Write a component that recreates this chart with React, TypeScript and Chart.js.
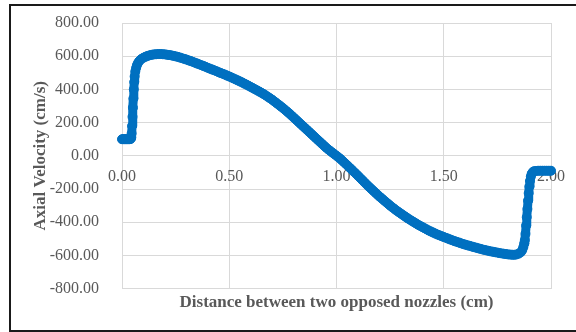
import React, { useEffect, useRef } from "react";
import { Chart, registerables } from "chart.js";

Chart.register(...registerables);

// Distance between nozzles (cm)
const distance: number[] = [
  0.000, 0.005, 0.010, 0.015, 0.020, 0.025, 0.030, 0.035, 0.040, 0.043,
  0.045, 0.047, 0.049, 0.051, 0.053, 0.055, 0.057, 0.059, 0.062, 0.066,
  0.070, 0.075, 0.080, 0.090, 0.100, 0.110, 0.120, 0.130, 0.140, 0.150,
  0.160, 0.170, 0.180, 0.190, 0.200, 0.210, 0.220, 0.230, 0.240, 0.250,
  0.260, 0.270, 0.280, 0.290, 0.300, 0.310, 0.320, 0.330, 0.340, 0.350,
  0.360, 0.370, 0.380, 0.390, 0.400, 0.410, 0.420, 0.430, 0.440, 0.450,
  0.460, 0.470, 0.480, 0.490, 0.500, 0.510, 0.520, 0.530, 0.540, 0.550,
  0.560, 0.570, 0.580, 0.590, 0.600, 0.610, 0.620, 0.630, 0.640, 0.650,
  0.660, 0.670, 0.680, 0.690, 0.700, 0.710, 0.720, 0.730, 0.740, 0.750,
  0.760, 0.770, 0.780, 0.790, 0.800, 0.810, 0.820, 0.830, 0.840, 0.850,
  0.860, 0.870, 0.880, 0.890, 0.900, 0.910, 0.920, 0.930, 0.940, 0.950,
  0.960, 0.970, 0.980, 0.990, 1.000,
  1.010, 1.020, 1.030, 1.040, 1.050, 1.060, 1.070, 1.080, 1.090, 1.100,
  1.110, 1.120, 1.130, 1.140, 1.150, 1.160, 1.170, 1.180, 1.190, 1.200,
  1.210, 1.220, 1.230, 1.240, 1.250, 1.260, 1.270, 1.280, 1.290, 1.300,
  1.310, 1.320, 1.330, 1.340, 1.350, 1.360, 1.370, 1.380, 1.390, 1.400,
  1.410, 1.420, 1.430, 1.440, 1.450, 1.460, 1.470, 1.480, 1.490, 1.500,
  1.510, 1.520, 1.530, 1.540, 1.550, 1.560, 1.570, 1.580, 1.590, 1.600,
  1.610, 1.620, 1.630, 1.640, 1.650, 1.660, 1.670, 1.680, 1.690, 1.700,
  1.710, 1.720, 1.730, 1.740, 1.750, 1.760, 1.770, 1.780, 1.790, 1.800,
  1.810, 1.820, 1.830, 1.840, 1.850, 1.860, 1.866, 1.871, 1.875, 1.878,
  1.881, 1.884, 1.887, 1.890, 1.893, 1.896, 1.899, 1.902, 1.906, 1.910,
  1.915, 1.920, 1.930, 1.940, 1.950, 1.960, 1.970, 1.980, 1.990, 2.000,
];

// Axial velocity (cm/s)
const velocity: number[] = [
  100, 100, 100, 100, 100, 100, 100, 100, 101, 108,
  135, 180, 235, 290, 345, 400, 445, 478, 508, 530,
  547, 560, 570, 583, 591, 597, 602, 606, 609, 611,
  612, 613, 613, 612, 611, 609, 607, 605, 602, 599,
  596, 592, 588, 584, 580, 575, 571, 566, 561, 556,
  551, 546, 541, 536, 530, 525, 520, 515, 510, 504,
  499, 494, 489, 483, 478, 472, 466, 460, 454, 448,
  442, 435, 429, 422, 415, 408, 401, 394, 387, 380,
  372, 364, 355, 347, 338, 328, 318, 308, 298, 288,
  277, 266, 255, 243, 231, 219, 207, 195, 183, 171,
  159, 147, 135, 123, 111, 99, 87, 75, 63, 51,
  40, 30, 20, 10, 0,
  -10, -21, -33, -45, -57, -70, -82, -95, -107, -120,
  -133, -146, -159, -172, -185, -197, -209, -221, -233, -245,
  -256, -267, -278, -289, -300, -310, -320, -330, -339, -348,
  -357, -366, -375, -383, -391, -399, -407, -415, -422, -429,
  -436, -443, -450, -456, -462, -468, -474, -479, -484, -489,
  -494, -499, -504, -509, -514, -518, -522, -527, -531, -535,
  -539, -542, -546, -550, -553, -557, -560, -564, -567, -570,
  -573, -576, -578, -581, -583, -586, -588, -590, -592, -594,
  -595, -596, -596, -594, -589, -580, -568, -550, -528, -508,
  -470, -420, -370, -320, -270, -225, -185, -152, -125, -108,
  -98, -93, -91, -90, -90, -90, -90, -90, -90, -90,
];

const xTickValues: number[] = [0, 0.5, 1.0, 1.5, 2.0];
const yTickValues: number[] = [-800, -600, -400, -200, 0, 200, 400, 600, 800];

const xTitle = "Distance between two opposed nozzles (cm)";
const yTitle = "Axial Velocity (cm/s)";

const FONT = '"Liberation Serif", "Times New Roman", serif';
const TEXT = "#595959";
const GRID = "#D9D9D9";
const BLUE = "#0070C0";

export default function App() {
  const ref = useRef<HTMLCanvasElement | null>(null);

  useEffect(() => {
    document.body.style.overflow = "hidden";
    const canvas = ref.current;
    if (!canvas) return;
    const points = distance.map((x, i) => ({ x, y: velocity[i] }));
    const chart = new Chart(canvas, {
      type: "scatter",
      data: {
        datasets: [
          {
            data: points,
            showLine: true,
            borderColor: BLUE,
            borderWidth: 9,
            borderJoinStyle: "round",
            borderCapStyle: "round",
            backgroundColor: BLUE,
            pointRadius: 4.5,
            pointBorderWidth: 1,
            pointBorderColor: BLUE,
            pointBackgroundColor: BLUE,
            clip: false,
          } as any,
        ],
      },
      options: {
        animation: false,
        responsive: false,
        devicePixelRatio: 1,
        layout: { padding: { left: 22, right: 23, top: 23, bottom: 15 } },
        plugins: {
          legend: { display: false },
          tooltip: { enabled: false },
        },
        scales: {
          x: {
            type: "linear",
            position: { y: 0 } as any,
            min: 0,
            max: 2,
            z: 1,
            afterBuildTicks: (s: any) => {
              s.ticks = xTickValues.map((v) => ({ value: v }));
            },
            ticks: {
              callback: (v: any) => Number(v).toFixed(2),
              font: { family: FONT, size: 16 },
              color: TEXT,
              padding: 11,
              maxRotation: 0,
              autoSkip: false,
            },
            grid: { display: false, drawTicks: false },
            border: { display: false },
          },
          xg: {
            type: "linear",
            position: "bottom",
            min: 0,
            max: 2,
            afterBuildTicks: (s: any) => {
              s.ticks = xTickValues.map((v) => ({ value: v }));
            },
            ticks: { display: false },
            grid: { color: GRID, lineWidth: 1, drawTicks: false },
            border: { display: false },
            title: {
              display: true,
              text: xTitle,
              font: { family: FONT, size: 17, weight: "bold" },
              color: TEXT,
              padding: { top: 4, bottom: 4 },
            },
          },
          y: {
            type: "linear",
            position: "left",
            min: -800,
            max: 800,
            afterBuildTicks: (s: any) => {
              s.ticks = yTickValues.map((v) => ({ value: v }));
            },
            afterFit: (s: any) => {
              s.width = 100;
              s.paddingTop = 10;
              s.paddingBottom = 10;
            },
            ticks: {
              callback: (v: any) => Number(v).toFixed(2),
              font: { family: FONT, size: 16 },
              color: TEXT,
              padding: 23,
            },
            grid: { color: GRID, lineWidth: 1, drawTicks: false },
            border: { display: false },
            title: {
              display: true,
              text: yTitle,
              font: { family: FONT, size: 17, weight: "bold" },
              color: TEXT,
              padding: { top: 8, bottom: 4 },
            },
          },
        },
      } as any,
    });
    return () => chart.destroy();
  }, []);

  return (
    <div style={{ position: "fixed", left: 0, top: 0, width: 576, height: 332, background: "#fff" }}>
      <canvas ref={ref} width={576} height={332} style={{ position: "absolute", left: 0, top: 0 }} />
      <div
        style={{
          position: "absolute",
          left: 9,
          top: 4,
          width: 567,
          height: 328,
          boxSizing: "border-box",
          borderTop: "2px solid #1a1a1a",
          borderLeft: "2px solid #1a1a1a",
          borderBottom: "2px solid #1a1a1a",
          pointerEvents: "none",
        }}
      />
    </div>
  );
}
